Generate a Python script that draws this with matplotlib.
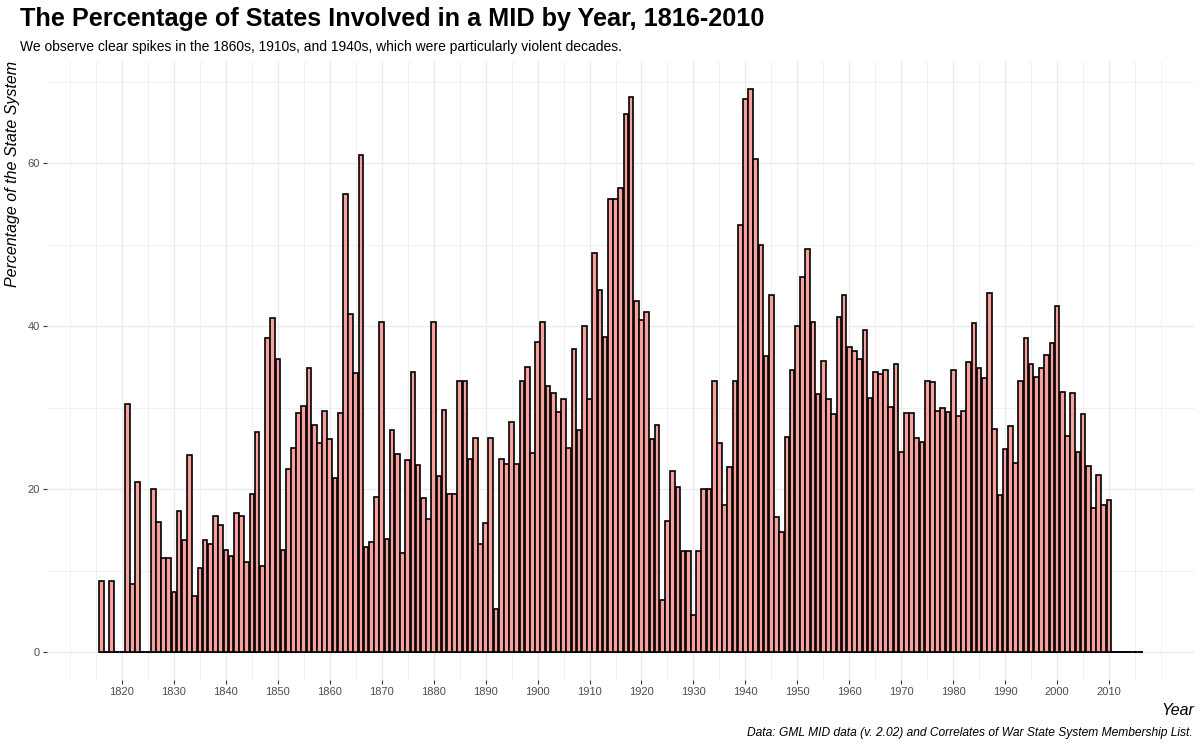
import matplotlib
matplotlib.use("Agg")
import matplotlib.pyplot as plt
import numpy as np

plt.rcParams['font.family'] = ['Liberation Sans', 'DejaVu Sans']

years = list(range(1816, 2017))
pct = [
    8.7, 0, 8.7, 0, 0, 30.4, 8.3, 20.9, 0, 0,            # 1816-1825
    20.0, 16.0, 11.5, 11.5, 7.4, 17.3, 13.7, 24.2, 6.9, 10.3,  # 1826-1835
    13.8, 13.3, 16.7, 15.6, 12.5, 11.8, 17.1, 16.7, 11.1, 19.4,  # 1836-1845
    27.0, 10.6, 38.5, 41.0, 35.9, 12.5, 22.5, 25.0, 29.3, 30.2,  # 1846-1855
    34.9, 27.9, 25.6, 29.6, 26.1, 21.4, 29.3, 56.2, 41.5, 34.2,  # 1856-1865
    61.0, 12.9, 13.5, 19.0, 40.5, 13.9, 27.3, 24.3, 12.1, 23.6,  # 1866-1875
    34.3, 22.9, 18.9, 16.3, 40.5, 21.6, 29.7, 19.4, 19.4, 33.3,  # 1876-1885
    33.3, 23.7, 26.3, 13.2, 15.8, 26.3, 5.3, 23.7, 23.1, 28.2,   # 1886-1895
    23.1, 33.3, 35.0, 24.4, 38.1, 40.5, 32.6, 31.8, 29.5, 31.1,  # 1896-1905
    25.0, 37.2, 27.3, 40.0, 31.1, 48.9, 44.4, 38.6, 55.6, 55.6,  # 1906-1915
    56.9, 66.0, 68.1, 43.1, 40.7, 41.7, 26.2, 27.9, 6.4, 16.1,   # 1916-1925
    22.2, 20.3, 12.4, 12.4, 4.6, 12.4, 20.0, 20.0, 33.3, 25.7,   # 1926-1935
    18.1, 22.7, 33.3, 52.4, 67.9, 69.1, 60.5, 50.0, 36.3, 43.8,  # 1936-1945
    16.6, 14.7, 26.4, 34.6, 40.0, 46.0, 49.4, 40.5, 31.7, 35.7,  # 1946-1955
    31.0, 29.2, 41.1, 43.8, 37.4, 36.9, 35.9, 39.5, 31.2, 34.4,  # 1956-1965
    34.1, 34.6, 30.1, 35.3, 24.6, 29.3, 29.3, 26.3, 25.8, 33.3,  # 1966-1975
    33.1, 29.6, 29.9, 29.5, 34.6, 29.0, 29.6, 35.6, 40.4, 34.8,  # 1976-1985
    33.6, 44.1, 27.4, 19.3, 24.9, 27.7, 23.2, 33.3, 38.5, 35.3,  # 1986-1995
    33.7, 34.8, 36.4, 37.9, 42.5, 31.9, 26.5, 31.8, 24.5, 29.2,  # 1996-2005
    22.8, 17.7, 21.7, 18.0, 18.6, 0, 0, 0, 0, 0,                 # 2006-2015
    0,                                                            # 2016
]

x_ticks = list(range(1820, 2011, 10))
y_ticks = [0, 20, 40, 60]

title = "The Percentage of States Involved in a MID by Year, 1816-2010"
subtitle = "We observe clear spikes in the 1860s, 1910s, and 1940s, which were particularly violent decades."
caption = "Data: GML MID data (v. 2.02) and Correlates of War State System Membership List."

W, H = 1200, 745
fig = plt.figure(figsize=(W / 100, H / 100), dpi=100)
ax = fig.add_axes([46.7 / W, 1 - 680.2 / H, (1194.7 - 46.7) / W, (680.2 - 60.7) / H])

bar_w = 0.9
ax.bar(years, pct, width=bar_w, color='#F6A19E', edgecolor='black', linewidth=1.2, zorder=3)
# zero-height bars render as a continuous baseline in the original
ax.hlines(0, years[0] - bar_w / 2, years[-1] + bar_w / 2, color='black', linewidth=1.2, zorder=2.5)

xmin, xmax = years[0] - bar_w / 2, years[-1] + bar_w / 2
xr = xmax - xmin
ax.set_xlim(xmin - 0.05 * xr, xmax + 0.05 * xr)
ymax = max(pct)
ax.set_ylim(-0.05 * ymax, ymax * 1.05)

ax.set_xticks(x_ticks)
ax.set_yticks(y_ticks)
ax.set_xticks(list(range(1810, 2021, 5)), minor=True)
ax.set_yticks([10, 30, 50, 70], minor=True)

ax.grid(True, which='major', color='#EBEBEB', linewidth=1.0, zorder=0)
ax.grid(True, which='minor', color='#EBEBEB', linewidth=0.5, zorder=0)
ax.set_axisbelow(True)

for s in ax.spines.values():
    s.set_visible(False)

ax.tick_params(axis='both', which='major', length=3, width=0.8, color='#333333',
               labelcolor='#4D4D4D', labelsize=8, pad=2)
ax.tick_params(axis='both', which='minor', length=0)

ax.set_xlabel("Year", fontsize=11.5, style='italic', loc='right', labelpad=4)
ax.set_ylabel("Percentage of the State System", fontsize=11.5, style='italic', loc='top', labelpad=5)

fig.text(20 / W, 1 - 19 / H, title, fontsize=18.2, fontweight='bold', ha='left', va='center')
fig.text(20 / W, 1 - 47 / H, subtitle, fontsize=10, ha='left', va='center')
fig.text(1193 / W, 1 - 733 / H, caption, fontsize=8.65, style='italic', ha='right', va='center')

fig.savefig("out.png", dpi=100)
